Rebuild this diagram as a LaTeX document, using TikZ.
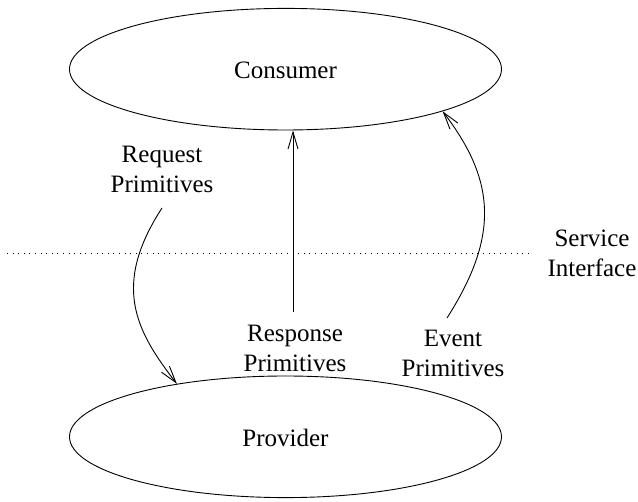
\documentclass[tikz,border=0pt]{standalone}
\usepackage{fontspec}
\setmainfont{Liberation Serif}
\newfontfamily\labelfont{Liberation Serif}
\usetikzlibrary{shapes.geometric,arrows.meta}

\tikzset{
  party/.style={draw, ellipse, line width=0.9pt, inner sep=0pt,
    minimum width=432pt, minimum height=121.6pt},
  lbl/.style={inner sep=0pt, align=center, font=\labelfont\fontsize{25}{30}\selectfont},
  flow/.style={line width=0.9pt, -{Straight Barb[length=17pt,width=10pt]}},
  boundary/.style={line width=1pt, dash pattern=on 1pt off 4.6pt}
}

\begin{document}
\begin{tikzpicture}[x=1pt, y=-1pt]
  \path[use as bounding box] (0,0) rectangle (638,502);

  % the two parties
  \node[party] (consumer) at (285.5,69.2) {};
  \node[party] (provider) at (285.5,436.8) {};
  \node[lbl, anchor=base] (consumertext) at (285.5,78.3) {Consumer};
  \node[lbl, anchor=base] (providertext) at (285.5,447) {Provider};

  % service interface boundary
  \coordinate (bndl) at (7,253.5);
  \coordinate (bndr) at (529,253.5);
  \draw[boundary] (bndl) -- (bndr);
  \node[lbl] (service) at (592,253.1) {Service\\Interface};

  % primitive labels
  \node[lbl] (request) at (162,169.8) {Request\\Primitives};
  \node[lbl] (response) at (295,348.1) {Response\\Primitives};
  \node[lbl] (event) at (453,353.5) {Event\\Primitives};

  % primitive flows
  \coordinate (reqstart) at (162,208);
  \coordinate (resstart) at (293,311.7);
  \coordinate (evstart) at (447,318);

  \draw[flow] (reqstart) .. controls (112,285) and (135,330) .. (provider.154);
  \draw[flow] (resstart) -- (resstart |- consumer.south);
  \draw[flow] (evstart) .. controls (500,235) and (495,180) .. (consumer.-15.5);
\end{tikzpicture}
\end{document}
